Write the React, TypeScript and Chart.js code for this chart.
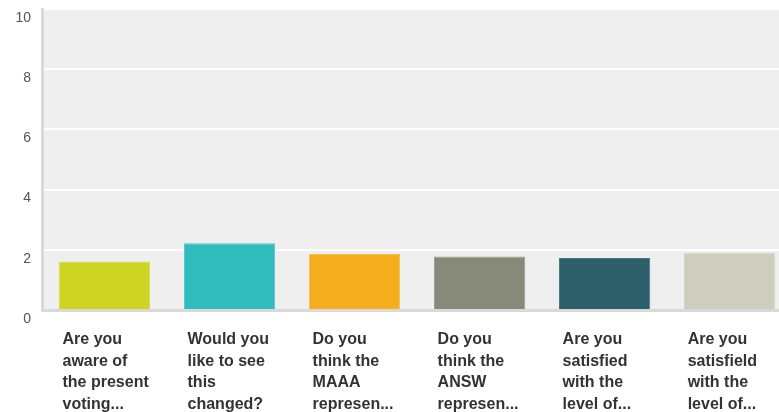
import React, { useEffect, useRef } from "react";
import { Chart, registerables } from "chart.js";

Chart.register(...registerables);

const categories: string[][] = [
  ["Are you", "aware of", "the present", "voting..."],
  ["Would you", "like to see", "this", "changed?"],
  ["Do you", "think the", "MAAA", "represen..."],
  ["Do you", "think the", "ANSW", "represen..."],
  ["Are you", "satisfied", "with the", "level of..."],
  ["Are you", "satisfield", "with the", "level of..."],
];
const values: number[] = [1.61, 2.22, 1.86, 1.78, 1.73, 1.91];
const barColors: string[] = ["#cdd424", "#30bbbc", "#f6ae1e", "#878a78", "#2d5f6b", "#cfcdbd"];
const barBorders: string[] = ["#d6dc4c", "#55c6c6", "#f8bd4a", "#979a8a", "#4c7782", "#d8d6c9"];
const yMin = 0;
const yMax = 10;
const yLabelStep = 2;

const bgPlugin = {
  id: "plotBg",
  beforeDraw(chart: any) {
    const { ctx, chartArea } = chart;
    if (!chartArea) return;
    ctx.save();
    ctx.fillStyle = "#efefef";
    ctx.fillRect(chartArea.left, chartArea.top, chartArea.right - chartArea.left, chartArea.bottom - chartArea.top);
    ctx.restore();
  },
};

const SHIFT = 20;

export default function App() {
  const ref = useRef<HTMLCanvasElement | null>(null);
  useEffect(() => {
    if (!ref.current) return;
    const chart = new Chart(ref.current, {
      type: "bar",
      data: {
        labels: categories,
        datasets: [
          {
            data: values,
            backgroundColor: barColors,
            borderColor: barBorders,
            borderWidth: 1,
            categoryPercentage: 1,
            barPercentage: 0.73,
          },
        ],
      },
      options: {
        animation: false,
        responsive: false,
        maintainAspectRatio: false,
        layout: { padding: { top: 0, left: 0, right: 0, bottom: 0 } },
        plugins: { legend: { display: false }, tooltip: { enabled: false } },
        scales: {
          x: {
            grid: { display: false, drawTicks: false },
            border: { display: true, color: "#d9d9d9", width: 3 },
            ticks: {
              align: "start",
              labelOffset: -42,
              padding: 19,
              autoSkip: false,
              maxRotation: 0,
              minRotation: 0,
              color: "#333333",
              font: { family: "'Liberation Sans', Arial, sans-serif", size: 16, weight: "bold", lineHeight: "21.5px" },
            },
            afterFit(scale: any) {
              scale.height = 102;
            },
          },
          y: {
            min: yMin,
            max: yMax,
            grid: {
              drawTicks: false,
              lineWidth: 2,
              color: (ctx: any) => (ctx.tick && ctx.tick.value === 0 ? "rgba(0,0,0,0)" : "#ffffff"),
            },
            border: { display: true, color: "#d9d9d9", width: 3 },
            ticks: {
              stepSize: 1,
              padding: 11,
              color: "#555555",
              font: { family: "'Liberation Sans', Arial, sans-serif", size: 14, lineHeight: "18px" },
              callback: (v: any) => (Number(v) % yLabelStep === 0 ? ["", String(v)] : ""),
            },
            afterFit(scale: any) {
              scale.width = 42;
            },
          },
        },
      },
      plugins: [bgPlugin],
    });
    return () => chart.destroy();
  }, []);
  return (
    <div style={{ position: "fixed", left: 0, top: 0, width: 779, height: 412, overflow: "hidden", background: "#fff" }}>
      <canvas
        ref={ref}
        width={818}
        height={412 + SHIFT}
        style={{ width: 818, height: 412 + SHIFT, display: "block", marginTop: -SHIFT }}
      />
    </div>
  );
}
